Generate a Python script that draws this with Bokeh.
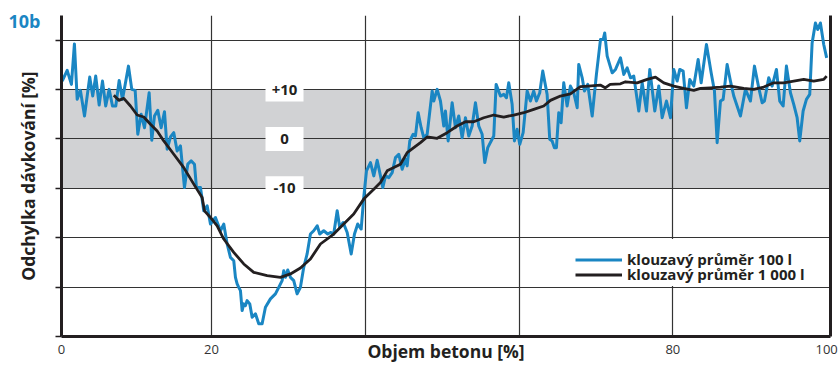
from bokeh.plotting import figure
from bokeh.models import (Range1d, FixedTicker, LinearAxis, BoxAnnotation,
                          Legend, LegendItem)
from bokeh.core.properties import value
from bokeh.embed import file_html
from bokeh.resources import INLINE

# moving average over 100 l  (x = concrete volume [%], y = dosing deviation [%])
pos_100 = [0.59, 1.24, 1.79, 2.18, 2.54, 2.96, 3.49, 4.17, 4.56, 4.95,
           5.40, 5.83, 6.25, 6.70, 7.13, 7.56, 8.00, 8.43, 8.78, 9.21,
           9.64, 10.08, 10.42, 10.86, 11.29, 11.90, 12.24, 12.59, 13.02, 13.46,
           13.89, 14.24, 14.67, 15.10, 15.54, 15.97, 16.49, 16.92, 17.36, 17.79, 18.05,
           18.57, 19.00, 19.44, 19.87, 20.52, 21.17, 21.60, 22.04, 22.47, 22.90,
           23.12, 23.34, 23.55, 23.77, 23.99, 24.20, 24.42, 24.64, 24.98, 25.29,
           25.72, 26.15, 26.59, 27.02, 27.67, 28.32, 28.75, 29.19, 29.40, 29.62,
           29.92, 30.27, 30.70, 31.14, 31.57, 32.00, 32.44, 32.87, 33.30, 33.75,
           34.08, 34.60, 35.12, 35.47, 35.90, 36.35, 36.68, 37.13, 37.65, 38.17,
           38.60, 39.02, 39.47,
           39.80, 40.16, 40.68, 41.11, 41.55, 41.98, 42.28, 42.63, 43.06, 43.50,
           43.93, 44.36, 44.80, 45.23, 45.45, 45.79, 46.23, 46.53, 46.88, 47.27,
           47.61, 48.05, 48.70, 48.91, 49.35, 49.78, 50.21, 50.43, 50.78, 51.30,
           51.73, 52.16, 52.60, 53.03, 53.46, 53.90, 54.33, 54.76, 55.20, 55.54,
           55.93, 56.71, 57.02, 57.58, 58.01, 58.36, 58.66, 59.10, 59.40, 59.75,
           60.09, 60.53, 61.05, 61.48, 61.91, 62.26, 62.69, 63.08, 63.65, 63.99,
           64.30, 64.60, 64.86, 65.16, 65.47,
           65.81, 66.25, 66.68, 67.11, 67.56, 67.76, 68.21, 68.50, 68.93, 69.51,
           70.06, 70.59, 70.94, 71.14, 71.46, 72.11, 72.54, 73.19, 73.62, 74.06,
           74.49, 74.92, 75.57, 76.01, 76.57, 77.00, 77.65, 78.17, 78.61, 79.17,
           79.69, 80.12, 80.56, 80.90, 81.34, 81.77, 82.20, 82.72, 83.29, 83.68,
           84.37, 84.98, 85.41, 85.76, 86.19, 86.54, 87.06, 87.49, 87.92, 88.79,
           89.44, 90.09, 90.61, 91.17, 91.61, 91.91, 92.47, 92.91, 93.47, 93.90,
           94.34, 94.77, 95.29, 95.72, 96.16, 96.50, 96.94, 97.37, 97.80, 98.11,
           98.54, 98.84, 99.19, 99.62, 100.0]
dev_100 = [11.72, 13.88, 11.05, 19.25, 8.02, 9.84, 4.65, 12.53, 8.69, 12.73,
           6.87, 11.72, 6.67, 10.04, 6.67, 6.67, 11.86, 8.02, 11.05, 14.75,
           10.04, 9.84, 0.95, 4.99, 2.28, 9.35, -0.26, 4.65, 5.80, 2.28,
           5.52, -2.08, 0.40, 1.27, -2.42, -1.41, -9.84, -5.11, -4.44, -5.11, -9.84,
           -9.84, -14.55, -13.54, -17.23, -15.90, -18.59, -17.23, -21.27, -23.98, -24.65,
           -28.02, -29.35, -30.04, -30.71, -34.75, -33.39, -33.74, -32.73, -33.39, -36.10,
           -35.41, -37.43, -37.43, -34.08, -32.38, -31.37, -30.04, -28.69, -26.67, -28.02,
           -26.53, -28.02, -28.69, -31.37, -30.04, -26.00, -23.29, -19.25, -18.59, -17.58,
           -19.25, -18.59, -19.25, -18.93, -19.25, -14.55, -17.92, -16.91, -18.93, -23.29,
           -19.25, -17.23, -18.24,
           -11.86, -6.46, -4.79, -7.47, -4.30, -7.47, -9.84, -7.47, -7.82, -6.81,
           -3.78, -3.09, -6.12, -4.10, -5.45, -0.40, 0.95, 0.61, 5.31, 2.28,
           0.26, 0.95, 9.70, 7.68, 10.04, 7.68, 2.63, 5.66, -0.40, 7.33,
           2.28, 4.65, 0.26, 4.30, 0.61, 2.63, 7.33, 2.63, 0.95, -4.79,
           -1.76, 0.61, 11.05, 8.69, 9.03, 8.34, 11.37, 7.01, -0.40, 1.96,
           -1.07, 1.27, 9.70, 7.68, 9.70, 7.68, 9.35, 13.74, 9.03, -0.06,
           -0.40, -1.76, -1.76, 5.31, 3.29,
           11.37, 6.67, 10.71, 9.35, 6.32, 15.09, 12.38, 9.70, 11.05, 4.65,
           13.07, 20.14, 20.14, 21.47, 16.77, 13.39, 14.08, 16.42, 13.07, 14.40,
           12.38, 12.73, 5.66, 11.37, 5.66, 14.08, 5.66, 10.71, 4.30, 7.68,
           4.30, 14.08, 11.72, 14.08, 13.74, 6.32, 12.06, 10.71, 16.10, 11.37,
           19.13, 13.39, 9.70, -0.75, 7.68, 8.02, 15.09, 11.72, 8.69, 4.65,
           10.04, 7.68, 14.75, 10.36, 7.33, 7.68, 12.38, 10.71, 14.08, 7.68,
           6.67, 14.75, 9.35, 7.01, 4.30, -0.40, 5.66, 8.02, 9.03, 19.45,
           23.49, 22.16, 23.49, 19.13, 16.42]

# moving average over 1 000 l
pos_1000 = [7.30, 7.95, 8.60, 9.47, 10.34, 11.20, 12.07, 12.94, 13.80, 15.10,
            16.40, 17.70, 18.79, 19.09, 19.87, 20.74, 21.60, 22.90, 24.20, 25.50,
            27.24, 28.97, 30.27, 31.57, 32.87, 34.17, 35.90, 37.20, 38.50, 39.80,
            41.11, 41.98, 42.85, 43.71, 44.58, 45.45, 46.31, 47.18, 48.05, 49.35,
            50.65, 51.95, 53.03, 54.11, 55.41, 56.71, 58.01, 59.31, 60.61, 61.91,
            63.21, 64.08, 65.38, 66.68, 67.98, 69.00, 70.56, 71.20, 71.85, 73.19,
            73.84, 75.36, 76.66, 77.74, 78.82, 80.12, 81.42, 82.72, 83.59, 84.89,
            86.19, 87.49, 89.22, 90.52, 91.82, 93.12, 94.42, 95.72, 97.02, 98.32,
            99.62, 100.0]
dev_1000 = [8.83, 7.82, 8.22, 6.67, 4.85, 4.44, 2.97, 1.62, -0.40, -3.09,
            -5.80, -9.15, -11.86, -14.55, -15.90, -17.58, -20.26, -22.97, -25.31, -27.01,
            -27.68, -28.02, -27.33, -26.12, -24.30, -21.27, -19.25, -17.23, -15.21, -12.18,
            -10.16, -8.83, -6.46, -5.80, -5.11, -2.77, -1.76, -0.75, 0.40, 0.14,
            1.27, 2.63, 3.49, 3.49, 4.30, 4.85, 4.44, 4.85, 5.31, 6.00,
            6.67, 7.82, 8.69, 9.15, 10.60, 10.71, 10.91, 10.36, 11.05, 11.17,
            11.58, 11.37, 12.06, 12.53, 11.37, 10.71, 10.24, 9.84, 10.24, 10.36,
            10.51, 10.71, 10.24, 10.04, 10.51, 11.37, 11.37, 11.72, 12.06, 11.72,
            12.06, 12.73]

# x axis: the first tick sits on the left edge of the frame and reads "0"
x_ticks = [0.5, 20, 80, 100]
x_tick_text = {0.5: "0"}
x_grid_lines = [20, 40, 60, 80]
y_ticks = [-40, -30, -20, -10, 0, 10, 20]
y_grid_lines = [-30, -20, -10, 0, 10, 20]
band_levels = [10, 0, -10]
band_texts = ["+10", "0", "-10"]

BLUE = "#1a86c3"
INK = "#231f20"
BAND = "#d1d2d4"
FONT = "Open Sans"

p = figure(width=839, height=367, output_backend="svg", toolbar_location=None,
           x_range=Range1d(0.5, 100.5), y_range=Range1d(-40, 25),
           min_border_left=61, min_border_right=9, min_border_top=15,
           min_border_bottom=31)
p.outline_line_color = None
p.background_fill_color = "white"
p.border_fill_color = "white"

# panel tag in the top-left corner
p.title.text = "10b"
p.title.align = "left"
p.title.offset = -53
p.title.standoff = -34
p.title.text_font = FONT
p.title.text_font_style = "bold"
p.title.text_font_size = "18px"
p.title.text_color = BLUE

# axes
p.xaxis.ticker = FixedTicker(ticks=x_ticks)
p.xaxis.major_label_overrides = x_tick_text
p.xaxis.major_tick_out = 0
p.xaxis.major_tick_in = 0
p.xaxis.minor_tick_out = 0
p.xaxis.minor_tick_in = 0
p.xaxis.axis_line_width = 3
p.xaxis.axis_line_color = INK
p.xaxis.major_label_text_font = FONT
p.xaxis.major_label_text_font_size = "13px"
p.xaxis.major_label_text_color = "#333333"
p.xaxis.major_label_standoff = 8
p.xaxis.axis_label = "Objem betonu [%]"
p.xaxis.axis_label_text_font = FONT
p.xaxis.axis_label_text_font_style = "bold"
p.xaxis.axis_label_text_font_size = "17.5px"
p.xaxis.axis_label_text_color = INK
p.xaxis.axis_label_standoff = -18

p.yaxis.ticker = FixedTicker(ticks=y_ticks)
p.yaxis.major_tick_out = 6
p.yaxis.major_tick_in = 0
p.yaxis.minor_tick_out = 0
p.yaxis.minor_tick_in = 0
p.yaxis.major_tick_line_width = 1.3
p.yaxis.major_tick_line_color = INK
p.yaxis.axis_line_width = 3
p.yaxis.axis_line_color = INK
p.yaxis.major_label_text_font_size = "0px"
p.yaxis.major_label_text_color = None
p.yaxis.major_label_standoff = 0
p.yaxis.axis_label = "Odchylka dávkování [%]"
p.yaxis.axis_label_text_font = FONT
p.yaxis.axis_label_text_font_style = "bold"
p.yaxis.axis_label_text_font_size = "17.5px"
p.yaxis.axis_label_text_color = INK
p.yaxis.axis_label_standoff = 16

right_axis = LinearAxis(ticker=FixedTicker(ticks=[]), axis_line_width=3,
                        axis_line_color=INK, major_tick_out=0, major_tick_in=0,
                        minor_tick_out=0, minor_tick_in=0,
                        major_label_text_font_size="0px",
                        major_label_text_color=None, major_label_standoff=0)
p.add_layout(right_axis, "right")

# grid
p.xgrid.ticker = FixedTicker(ticks=x_grid_lines)
p.ygrid.ticker = FixedTicker(ticks=y_grid_lines)
p.grid.grid_line_color = "#333333"
p.grid.grid_line_width = 1.2

# tolerance band +-10 %
p.add_layout(BoxAnnotation(bottom=-10, top=10, fill_color=BAND, fill_alpha=1,
                           line_color=None, level="image"))

# white backing behind the legend
p.add_layout(BoxAnnotation(left=65.4, right=100.5, top=-20.25, bottom=-29.75,
                           fill_color="white", fill_alpha=1, line_color=None,
                           level="underlay"))

# band level captions
p.rect(x=[29.5] * len(band_levels), y=band_levels, width=38, height=24,
       width_units="screen", height_units="screen",
       fill_color="white", line_color=None)
p.text(x=[29.5] * len(band_levels), y=band_levels, text=band_texts,
       text_align="center", text_baseline="middle",
       text_font=value(FONT), text_font_style="bold", text_font_size="15px",
       text_color=INK)

r_100 = p.line(pos_100, dev_100, line_width=3, line_color=BLUE, line_join="round")
r_1000 = p.line(pos_1000, dev_1000, line_width=2.8, line_color=INK, line_join="round")

# one legend per series so the two rows can sit closer than the font height
legend_style = dict(glyph_width=47, glyph_height=15, label_height=15,
                    label_standoff=5, spacing=0, padding=0, margin=0,
                    label_text_font=FONT, label_text_font_style="bold",
                    label_text_font_size="15px", label_text_color=INK,
                    background_fill_alpha=0, border_line_color=None)
legend_100 = Legend(items=[LegendItem(label="klouzavý průměr 100 l", renderers=[r_100])],
                    location=(514, 67), **legend_style)
legend_1000 = Legend(items=[LegendItem(label="klouzavý průměr 1 000 l", renderers=[r_1000])],
                     location=(514, 52), **legend_style)
p.add_layout(legend_100)
p.add_layout(legend_1000)

open("out.html", "w").write(file_html(p, INLINE))
